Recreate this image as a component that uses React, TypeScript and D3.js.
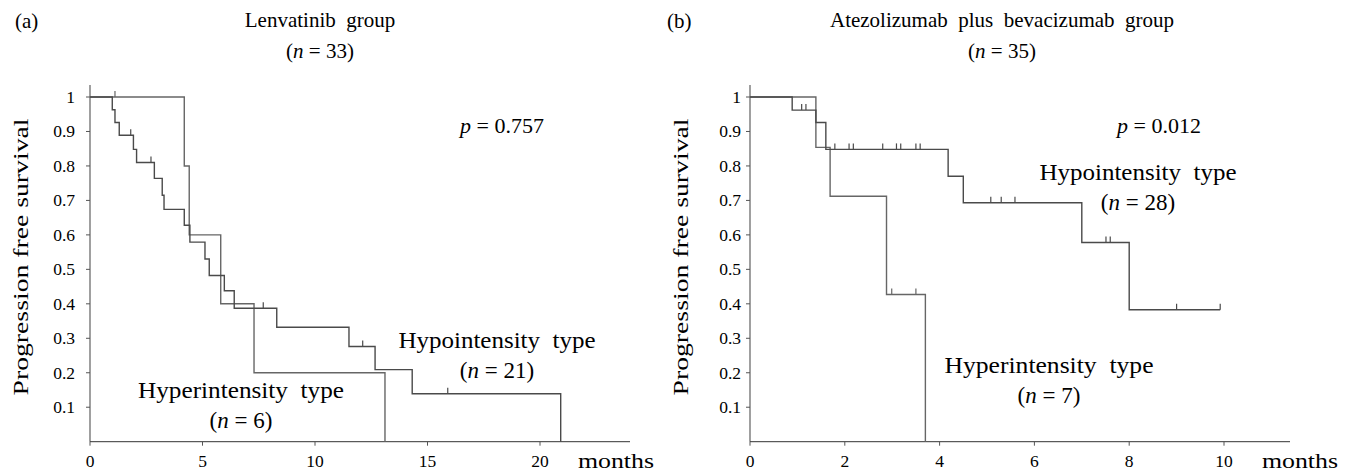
import * as d3 from 'd3';

const FONT = "'Liberation Serif', 'Times New Roman', Times, serif";

// y axis, shared by both panels
const survTicks = [0.1, 0.2, 0.3, 0.4, 0.5, 0.6, 0.7, 0.8, 0.9, 1];

// (a) Lenvatinib group
const lenvTicks = [0, 5, 10, 15, 20];
const lenvHypoTimes = [0.99, 1.11, 1.3, 1.93, 2.07, 2.86, 3.21, 3.29, 4.19, 4.44, 5.11, 5.3, 5.97, 6.41, 8.3, 11.51, 12.67, 14.32, 20.92];
const lenvHypoSurv = [0.963, 0.926, 0.889, 0.848, 0.81, 0.764, 0.715, 0.674, 0.628, 0.579, 0.53, 0.482, 0.438, 0.387, 0.332, 0.276, 0.209, 0.139, 0];
const lenvHypoCensor = [1.81, 2.71, 7.7, 12.12, 15.9];
const lenvHyperTimes = [4.19, 4.41, 5.81, 7.29, 13.11];
const lenvHyperSurv = [0.8, 0.6, 0.4, 0.2, 0];
const lenvHyperCensor = [1.11];

// (b) Atezolizumab plus bevacizumab group
const atezoTicks = [0, 2, 4, 6, 8, 10];
const atezoHypoTimes = [0.89, 1.39, 1.6, 4.18, 4.5, 7.0, 8.0];
const atezoHypoSurv = [0.962, 0.926, 0.848, 0.77, 0.693, 0.578, 0.383];
const atezoHypoCensor = [1.09, 1.18, 1.79, 2.09, 2.18, 2.8, 3.09, 3.18, 3.5, 3.59, 5.08, 5.3, 5.59, 7.51, 7.6, 9.0, 9.92];
const atezoHyperTimes = [1.39, 1.69, 2.88, 3.7];
const atezoHyperSurv = [0.854, 0.712, 0.427, 0];
const atezoHyperCensor = [2.99, 3.5];

const y = d3.scaleLinear().domain([0, 1]).range([441.7, 97]);

type Curve = { times: number[]; surv: number[]; censor: number[]; color: string };

const survAt = (c: Curve, t: number) => {
  const i = d3.bisectRight(c.times, t);
  return i === 0 ? 1 : c.surv[i - 1];
};

const N = ({ v }: { v: string }) => (
  <>
    (<tspan fontStyle="italic">n</tspan> = {v})
  </>
);

function Panel(props: {
  range: [number, number];
  max: number;
  ticks: number[];
  curves: Curve[];
  labelX: number;
  yLabelX: number;
  tag: string;
  tagX: number;
  title: string;
  titleX: number;
  n: string;
  pText: string;
  pX: number;
  notes: { text: string; n: string; cx: number; y: number; w: number }[];
}) {
  const x = d3.scaleLinear().domain([0, props.max]).range(props.range);
  const x0 = props.range[0];
  const yBase = y(0);
  const line = d3
    .line<[number, number]>()
    .x((d) => x(d[0]))
    .y((d) => y(d[1]))
    .curve(d3.curveStepAfter);

  return (
    <g fill="#000">
      <text x={props.tagX} y={28} fontSize={21}>{props.tag}</text>
      <text x={props.titleX} y={27} fontSize={21} textAnchor="middle" style={{ whiteSpace: 'pre' }}>{props.title}</text>
      <text x={props.titleX} y={58} fontSize={21} textAnchor="middle"><N v={props.n} /></text>

      <text
        transform={`translate(${props.yLabelX},257) rotate(-90)`}
        fontSize={21}
        textAnchor="middle"
        textLength={277}
        lengthAdjust="spacingAndGlyphs"
      >
        Progression free survival
      </text>

      {/* axes */}
      <line x1={x0} x2={x0} y1={85} y2={yBase} stroke="#888" strokeWidth={1.6} />
      <line x1={x0} x2={props.range[1]} y1={yBase} y2={yBase} stroke="#333" strokeWidth={1} />
      {survTicks.map((t) => (
        <g key={t}>
          <line x1={x0 - 4} x2={x0} y1={y(t)} y2={y(t)} stroke="#555" />
          <text x={props.labelX} y={y(t) + 6} fontSize={17.5} textAnchor="end">
            {t === 1 ? '1' : d3.format('.1f')(t)}
          </text>
        </g>
      ))}
      {props.ticks.map((t) => (
        <g key={t}>
          <line x1={x(t)} x2={x(t)} y1={yBase} y2={yBase + 4} stroke="#555" />
          <text x={x(t)} y={467} fontSize={17.5} textAnchor="middle">{t}</text>
        </g>
      ))}
      <text x={x(props.ticks[props.ticks.length - 1]) + 38} y={468} fontSize={22} textLength={76} lengthAdjust="spacingAndGlyphs">
        months
      </text>

      {/* curves */}
      {props.curves.map((c, i) => {
        const pts: [number, number][] = [[0, 1], ...c.times.map((t, j) => [t, c.surv[j]] as [number, number])];
        const lastC = d3.max(c.censor) ?? 0;
        const lastT = c.times[c.times.length - 1];
        if (lastC > lastT) pts.push([lastC, c.surv[c.surv.length - 1]]);
        return (
          <g key={i}>
            <path d={line(pts) ?? ''} fill="none" stroke={c.color} strokeWidth={1.4} />
            {c.censor.map((t) => (
              <line key={t} x1={x(t)} x2={x(t)} y1={y(survAt(c, t)) - 6} y2={y(survAt(c, t))} stroke={c.color} strokeWidth={1.2} />
            ))}
          </g>
        );
      })}

      <text x={props.pX} y={133} fontSize={22}>
        <tspan fontStyle="italic">p</tspan> = {props.pText}
      </text>

      {props.notes.map((nt) => (
        <g key={nt.text + nt.n}>
          <text x={nt.cx} y={nt.y} fontSize={23} textAnchor="middle" textLength={nt.w} lengthAdjust="spacingAndGlyphs" style={{ whiteSpace: 'pre' }}>
            {nt.text}
          </text>
          <text x={nt.cx} y={nt.y + 30} fontSize={23} textAnchor="middle"><N v={nt.n} /></text>
        </g>
      ))}
    </g>
  );
}

export default function App() {
  return (
    <svg width={1345} height={474} style={{ position: 'absolute', left: 0, top: 0, background: '#fff', fontFamily: FONT }}>
      <style>{`text { font-family: ${FONT}; }`}</style>
      <rect width={1345} height={474} fill="#fff" />
      <Panel
        range={[90, 630]}
        max={24}
        ticks={lenvTicks}
        curves={[
          { times: lenvHyperTimes, surv: lenvHyperSurv, censor: lenvHyperCensor, color: '#666' },
          { times: lenvHypoTimes, surv: lenvHypoSurv, censor: lenvHypoCensor, color: '#4a4a4a' },
        ]}
        labelX={75}
        yLabelX={28}
        tag="(a)"
        tagX={15}
        title="Lenvatinib  group"
        titleX={320}
        n="33"
        pText="0.757"
        pX={460}
        notes={[
          { text: 'Hypointensity  type', n: '21', cx: 497, y: 348, w: 197 },
          { text: 'Hyperintensity  type', n: '6', cx: 241, y: 398, w: 206 },
        ]}
      />
      <Panel
        range={[750, 1290]}
        max={540 / 47.4}
        ticks={atezoTicks}
        curves={[
          { times: atezoHyperTimes, surv: atezoHyperSurv, censor: atezoHyperCensor, color: '#666' },
          { times: atezoHypoTimes, surv: atezoHypoSurv, censor: atezoHypoCensor, color: '#4a4a4a' },
        ]}
        labelX={741}
        yLabelX={688}
        tag="(b)"
        tagX={667}
        title="Atezolizumab  plus  bevacizumab  group"
        titleX={1002}
        n="35"
        pText="0.012"
        pX={1117}
        notes={[
          { text: 'Hypointensity  type', n: '28', cx: 1138, y: 180, w: 197 },
          { text: 'Hyperintensity  type', n: '7', cx: 1049, y: 373, w: 209 },
        ]}
      />
    </svg>
  );
}
